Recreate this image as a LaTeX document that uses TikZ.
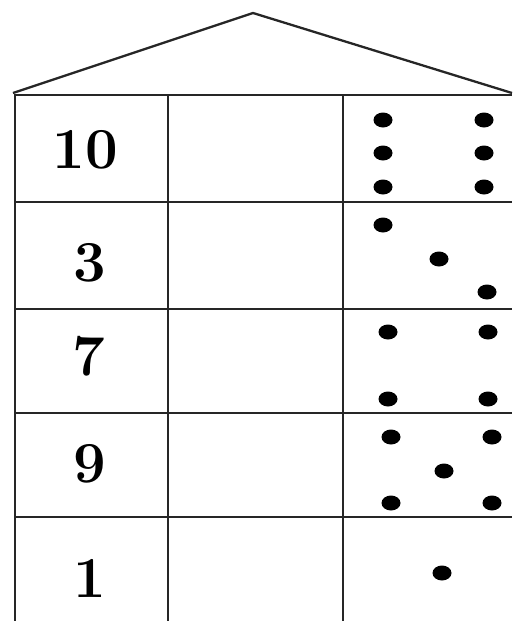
\documentclass[tikz,border=0pt]{standalone}
\begin{document}
\begin{tikzpicture}[x=1pt,y=-1pt,
  frame/.style={draw=black!85,line width=2.8pt},
  roof/.style={draw=black!85,line width=2.3pt,line join=round},
  num/.style={font=\fontsize{58}{58}\selectfont\bfseries,inner sep=0pt},
  dot/.style={fill=black,draw=none}]
\useasboundingbox (0,0) rectangle (512,621);
% roof
\coordinate (rl) at (13,93);
\coordinate (ra) at (253,13);
\coordinate (rr) at (512,93);
\draw[roof] (rl) -- (ra) -- (rr);
% grid
\draw[frame] (14,95) -- (512,95);
\foreach \y in {202,309,413,517} \draw[frame] (15,\y) -- (512,\y);
\draw[frame] (15,94) -- (15,621);
\draw[frame] (168,95) -- (168,621);
\draw[frame] (343,95) -- (343,621);
% numbers
\node[num] (n10) at (85,150) {10};
\node[num] (n3) at (90,263) {3};
\node[num] (n7) at (89,356) {7};
\node[num] (n9) at (90,464) {9};
\node[num] (n1) at (90,578) {1};
% dots
\foreach \p in {(383,120),(484,120),(383,153),(484,153),(383,187),(484,187),
  (383,225),(439,259),(487,292),
  (388,332),(488,332),(388,399),(488,399),
  (391,437),(492,437),(444,471),(391,503),(492,503),
  (442,573)}
  \fill[dot] \p ellipse (9.5 and 7.5);
\end{tikzpicture}
\end{document}
